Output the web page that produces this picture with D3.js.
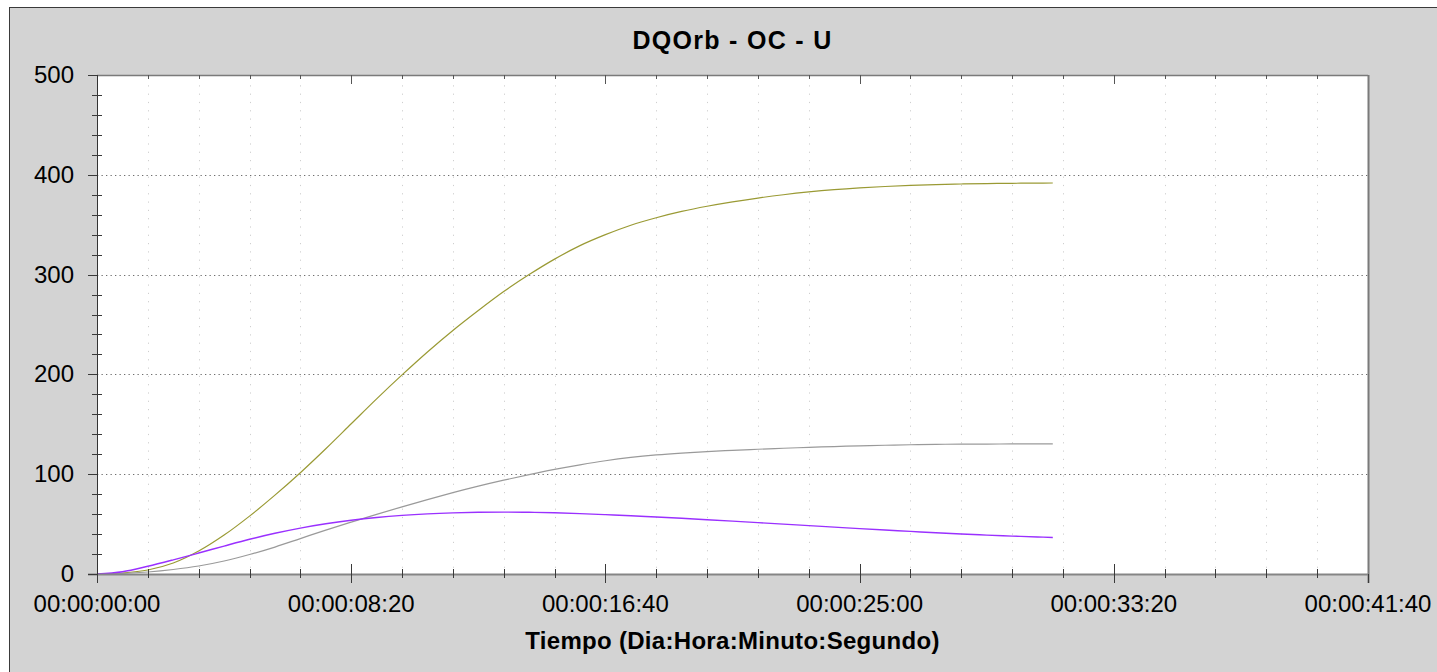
<!DOCTYPE html>
<html>
<head>
<meta charset="utf-8">
<script src="https://cdn.jsdelivr.net/npm/d3@7"></script>
<style>
  html, body { margin: 0; padding: 0; background: #ffffff; }
  svg { display: block; }
  text { font-family: "Liberation Sans", Arial, sans-serif; fill: #000; }
</style>
</head>
<body>
<svg id="chart" width="1437" height="672"></svg>
<script>
// Time in seconds
const tiempo = [0, 50, 100, 150, 200, 250, 300, 350, 400, 450, 500, 550, 600, 650, 700, 750,
  800, 850, 900, 950, 1000, 1050, 1100, 1150, 1200, 1250, 1300, 1350, 1400, 1450, 1500,
  1550, 1600, 1650, 1700, 1750, 1800, 1850, 1880];

// Series values (olive, gray, purple)
const serieOliva = [0, 1, 4, 11, 23, 39, 58, 79, 101.5, 125.5, 150.5, 175.5, 199.5, 222.5, 244, 264,
  283, 300, 315.5, 329, 340, 349.5, 357, 363.3, 368.5, 372.9, 376.7, 380, 382.8, 385.1, 386.9,
  388.3, 389.4, 390.2, 390.8, 391.2, 391.5, 391.7, 391.8];
const serieGris = [0, 0.5, 2, 4.5, 8, 13, 19.5, 27, 35.5, 44, 52, 59.8, 67.3, 74.6, 81.5, 88,
  94, 99.6, 104.8, 109.4, 113.5, 116.8, 119.3, 121.2, 122.7, 123.9, 125, 126, 126.9, 127.7, 128.4,
  129, 129.5, 129.9, 130.1, 130.2, 130.3, 130.3, 130.3];
const serieMorada = [0, 2.3, 7.8, 14.2, 21, 28, 34.8, 40.8, 46, 50.3, 53.8, 56.6, 58.7, 60.2, 61.2, 61.8,
  62, 61.8, 61.3, 60.5, 59.5, 58.4, 57.1, 55.8, 54.4, 53, 51.5, 50, 48.5, 47, 45.5,
  44.1, 42.7, 41.3, 40.1, 39, 38, 37.1, 36.6];

// Axis ticks and labels
const xTicks = [0, 500, 1000, 1500, 2000, 2500];
const xTickLabels = ["00:00:00:00", "00:00:08:20", "00:00:16:40", "00:00:25:00", "00:00:33:20", "00:00:41:40"];
const yTicks = [0, 100, 200, 300, 400, 500];
const yTickLabels = ["0", "100", "200", "300", "400", "500"];

const titulo = "DQOrb - OC - U";
const tituloEjeX = "Tiempo (Dia:Hora:Minuto:Segundo)";

const svg = d3.select("#chart");
const pLeft = 97, pRight = 1368, pTop = 75, pBottom = 574;

const x = d3.scaleLinear().domain([0, 2500]).range([pLeft, pRight]);
const y = d3.scaleLinear().domain([0, 500]).range([pBottom, pTop]);
const px = v => Math.round(x(v)) + 0.5;
const py = v => Math.round(y(v)) + 0.5;

// Outer panel
svg.append("rect")
  .attr("x", 9.5).attr("y", 7.5).attr("width", 1440).attr("height", 680)
  .attr("fill", "#d3d3d3").attr("stroke", "#3a3a3a").attr("stroke-width", 1);

// Plot area
svg.append("rect")
  .attr("x", pLeft).attr("y", pTop).attr("width", pRight - pLeft).attr("height", pBottom - pTop)
  .attr("fill", "#ffffff");

// Minor vertical grid (every 100 s, skipping major positions)
const xMinor = d3.range(100, 2500, 100).filter(v => v % 500 !== 0);
svg.append("g").selectAll("line").data(xMinor).join("line")
  .attr("x1", px).attr("x2", px)
  .attr("y1", pTop + 2).attr("y2", pBottom)
  .attr("stroke", "#cfcfcf").attr("stroke-width", 1)
  .attr("stroke-dasharray", "1.2,7.1");

// Horizontal major grid
svg.append("g").selectAll("line").data(yTicks.filter(v => v > 0 && v < 500)).join("line")
  .attr("x1", pLeft).attr("x2", pRight)
  .attr("y1", py).attr("y2", py)
  .attr("stroke", "#6e6e6e").attr("stroke-width", 1)
  .attr("stroke-dasharray", "1.3,3.2");

// Series lines
const line = d3.line().curve(d3.curveCatmullRom.alpha(0.5));
function drawSeries(values, color, width) {
  const pts = tiempo.map((t, i) => [x(t), y(values[i])]);
  svg.append("path")
    .attr("d", line(pts))
    .attr("fill", "none")
    .attr("stroke", color)
    .attr("stroke-width", width)
    .attr("stroke-linejoin", "round");
}
drawSeries(serieOliva, "#9a9a34", 1.2);
drawSeries(serieGris, "#9a9a9a", 1.2);
drawSeries(serieMorada, "#9a30ff", 1.4);

// Frame lines
svg.append("line").attr("x1", pLeft).attr("x2", pRight).attr("y1", pTop + 0.5).attr("y2", pTop + 0.5)
  .attr("stroke", "#7a7a7a").attr("stroke-width", 1.5);
svg.append("line").attr("x1", pRight + 0.5).attr("x2", pRight + 0.5).attr("y1", pTop).attr("y2", pBottom + 9)
  .attr("stroke", "#7a7a7a").attr("stroke-width", 2);
svg.append("line").attr("x1", pLeft - 9).attr("x2", pRight + 1).attr("y1", pBottom + 0.5).attr("y2", pBottom + 0.5)
  .attr("stroke", "#858585").attr("stroke-width", 2);
svg.append("line").attr("x1", pLeft + 0.5).attr("x2", pLeft + 0.5).attr("y1", pTop).attr("y2", pBottom + 9)
  .attr("stroke", "#333333").attr("stroke-width", 1);

// X axis ticks (bottom and top)
const gx = svg.append("g");
gx.selectAll("line.minb").data(xMinor).join("line").attr("class", "minb")
  .attr("x1", px).attr("x2", px)
  .attr("y1", pBottom - 5).attr("y2", pBottom + 4)
  .attr("stroke", "#3a3a3a");
gx.selectAll("line.majb").data(xTicks).join("line").attr("class", "majb")
  .attr("x1", px).attr("x2", px)
  .attr("y1", d => (d === 0 || d === 2500) ? pBottom : pBottom - 10).attr("y2", pBottom + 9)
  .attr("stroke", "#3a3a3a");
gx.selectAll("line.mint").data(xMinor).join("line").attr("class", "mint")
  .attr("x1", px).attr("x2", px)
  .attr("y1", pTop).attr("y2", pTop + 4)
  .attr("stroke", "#555555");
gx.selectAll("line.majt").data(xTicks.filter(v => v > 0 && v < 2500)).join("line").attr("class", "majt")
  .attr("x1", px).attr("x2", px)
  .attr("y1", pTop).attr("y2", pTop + 9)
  .attr("stroke", "#555555");
gx.selectAll("text").data(xTicks).join("text")
  .attr("x", d => x(d)).attr("y", 612)
  .attr("text-anchor", "middle")
  .style("font-size", "24px")
  .text((d, i) => xTickLabels[i]);

// Y axis ticks
const yMinor = d3.range(20, 500, 20).filter(v => v % 100 !== 0);
const gy = svg.append("g");
gy.selectAll("line.min").data(yMinor).join("line").attr("class", "min")
  .attr("x1", pLeft - 5).attr("x2", pLeft + 5)
  .attr("y1", py).attr("y2", py)
  .attr("stroke", "#3a3a3a");
gy.selectAll("line.maj").data(yTicks).join("line").attr("class", "maj")
  .attr("x1", pLeft - 9).attr("x2", pLeft)
  .attr("y1", py).attr("y2", py)
  .attr("stroke", "#3a3a3a");
gy.selectAll("text").data(yTicks).join("text")
  .attr("x", 74).attr("y", d => y(d) + 8)
  .attr("text-anchor", "end")
  .style("font-size", "24px")
  .text((d, i) => yTickLabels[i]);

// Title and axis title
svg.append("text")
  .attr("x", (pLeft + pRight) / 2).attr("y", 49)
  .attr("text-anchor", "middle")
  .style("font-size", "25px").style("font-weight", "bold").style("letter-spacing", "1.3px")
  .text(titulo);
svg.append("text")
  .attr("x", (pLeft + pRight) / 2).attr("y", 649)
  .attr("text-anchor", "middle")
  .style("font-size", "24px").style("font-weight", "bold").style("letter-spacing", "0.3px")
  .text(tituloEjeX);
</script>
</body>
</html>
